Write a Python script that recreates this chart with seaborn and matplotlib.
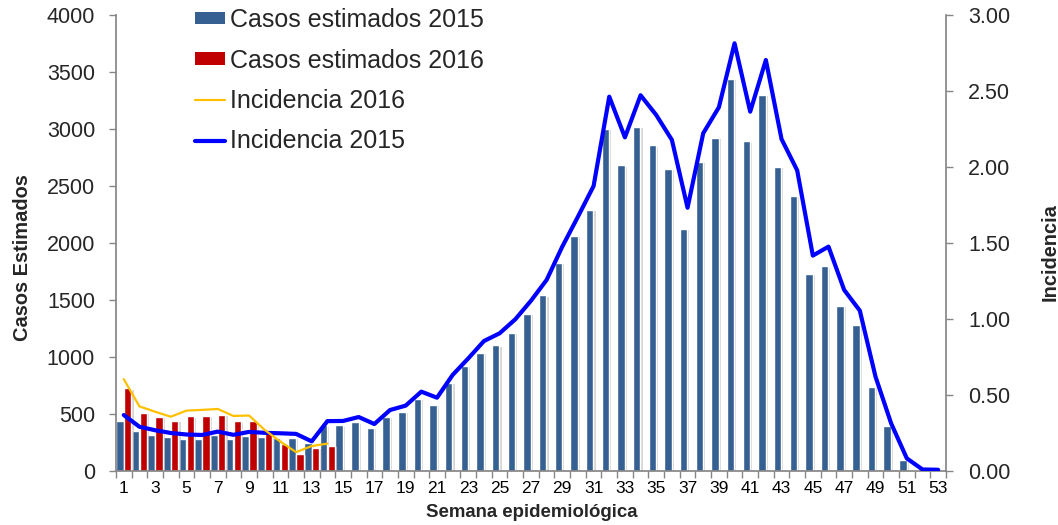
import numpy as np
import pandas as pd
import matplotlib
matplotlib.use("Agg")
import matplotlib.pyplot as plt
import seaborn as sns
from matplotlib import font_manager
from matplotlib.patches import Patch
from matplotlib.lines import Line2D
from matplotlib.ticker import FixedLocator, FormatStrFormatter
import matplotlib.patheffects as pe

# ---------------- data ----------------
weeks = list(range(1, 54))
casos_2015 = [441, 351, 319, 298, 284, 284, 313, 284, 310, 301,
              292, 290, 243, 400, 400, 427, 377, 477, 521, 632,
              579, 775, 921, 1038, 1102, 1213, 1380, 1541, 1825, 2061,
              2289, 3000, 2681, 3017, 2856, 2652, 2122, 2710, 2921, 3439,
              2892, 3298, 2667, 2412, 1728, 1795, 1450, 1283, 740, 398,
              93, 0, 0]
casos_2016 = [725, 509, 474, 439, 480, 485, 491, 436, 436, 330,
              234, 146, 205, 219]
inc_2015 = [0.368, 0.291, 0.268, 0.250, 0.240, 0.237, 0.259, 0.238, 0.257, 0.251,
            0.248, 0.244, 0.195, 0.328, 0.329, 0.355, 0.309, 0.401, 0.430, 0.522,
            0.482, 0.632, 0.741, 0.855, 0.906, 0.998, 1.120, 1.257, 1.476, 1.673,
            1.875, 2.463, 2.195, 2.472, 2.342, 2.178, 1.732, 2.222, 2.393, 2.814,
            2.364, 2.704, 2.184, 1.978, 1.417, 1.476, 1.191, 1.055, 0.621, 0.313,
            0.083, 0.010, 0.008]
inc_2016 = [0.604, 0.425, 0.390, 0.357, 0.397, 0.402, 0.408, 0.362, 0.365, 0.270,
            0.193, 0.124, 0.164, 0.180]
series_labels = ["Casos estimados 2015", "Casos estimados 2016",
                 "Incidencia 2016", "Incidencia 2015"]
xtick_weeks = list(range(1, 54, 2))
left_ticks = list(range(0, 4001, 500))
right_ticks = [0.0, 0.5, 1.0, 1.5, 2.0, 2.5, 3.0]

# ---------------- style ----------------
sns.set_theme(style="white")
names = {f.name for f in font_manager.fontManager.ttflist}
base = "Liberation Sans" if "Liberation Sans" in names else "DejaVu Sans"
narrow = "Liberation Sans Narrow" if "Liberation Sans Narrow" in names else None
plt.rcParams['font.family'] = [base, 'DejaVu Sans']
lab_family = [narrow, base] if narrow else [base]
lab_size = 17.5 if narrow else 14.4
xt_family = [narrow, base] if narrow else [base]
xt_size = 13 if narrow else 12.5

C_BLUE = "#376092"
C_RED = "#C00000"
C_ORANGE = "#FFC000"
C_LINE = "#0000FF"
C_AXIS = "#868686"

df = pd.DataFrame({
    "week": weeks + weeks[:len(casos_2016)],
    "serie": ["2015"] * len(casos_2015) + ["2016"] * len(casos_2016),
    "casos": casos_2015 + casos_2016,
})

fig = plt.figure(figsize=(10.58, 5.25), dpi=100)
ax = fig.add_axes([0.1096, 0.1029, 0.8941 - 0.1096, 0.9714 - 0.1029])

sns.barplot(data=df, x="week", y="casos", hue="serie", order=weeks,
            hue_order=["2015", "2016"], palette=[C_BLUE, C_RED],
            width=1.0, gap=0.04, saturation=1, errorbar=None,
            legend=False, ax=ax)
for p in ax.patches:
    p.set_path_effects([pe.SimplePatchShadow(offset=(1.5, -1), shadow_rgbFace="#BBBBBB", alpha=0.6),
                        pe.Normal()])

ax2 = ax.twinx()
pos = np.arange(len(weeks))
sns.lineplot(x=pos, y=inc_2015, color=C_LINE, linewidth=3, ax=ax2)
sns.lineplot(x=pos[:len(inc_2016)], y=inc_2016, color=C_ORANGE, linewidth=1.6, ax=ax2)

# axes limits & ticks
ax.set_xlim(-0.5, len(weeks) - 0.5)
ax.set_ylim(0, 4000)
ax2.set_ylim(0, 3)
ax.set_yticks(left_ticks)
ax.set_yticklabels([str(v) for v in left_ticks])
ax2.set_yticks(right_ticks)
ax2.yaxis.set_major_formatter(FormatStrFormatter("%.2f"))

ax.set_xticks([weeks.index(w) for w in xtick_weeks])
ax.set_xticklabels([str(w) for w in xtick_weeks])
ax.xaxis.set_minor_locator(FixedLocator(np.arange(-0.5, len(weeks), 1.0)))
ax.tick_params(axis="x", which="major", length=0, pad=7, labelsize=xt_size, colors="black")
ax.tick_params(axis="x", which="minor", length=5, color=C_AXIS, width=1, bottom=True)
for t in ax.get_xticklabels():
    t.set_family(xt_family)
ax.tick_params(axis="y", left=True, length=5, color=C_AXIS, width=1, pad=10, labelsize=15.5)
ax2.tick_params(axis="y", right=True, length=5, color=C_AXIS, width=1, pad=11, labelsize=15.5)

for s in ["top", "right"]:
    ax.spines[s].set_visible(False)
for s in ["top", "left", "bottom"]:
    ax2.spines[s].set_visible(False)
for s in ["left", "bottom"]:
    ax.spines[s].set_color(C_AXIS)
ax2.spines["right"].set_color(C_AXIS)

# axis labels
ax.set_xlabel("Semana epidemiológica", fontweight="bold", fontsize=lab_size - 1, family=lab_family)
ax.xaxis.set_label_coords(0.501, -0.09)
ax.xaxis.label.set_va("center")
ax.set_ylabel("Casos Estimados", fontweight="bold", fontsize=lab_size, family=lab_family)
ax.yaxis.label.set_va("center")
ax.yaxis.set_label_coords(-0.113, 0.467)
ax2.set_ylabel("Incidencia", fontweight="bold", fontsize=lab_size, family=lab_family)
ax2.yaxis.label.set_va("center")
ax2.yaxis.set_label_coords(1.125, 0.48)

# legend
handles = [Patch(facecolor=C_BLUE, edgecolor="none"),
           Patch(facecolor=C_RED, edgecolor="none"),
           Line2D([], [], color=C_ORANGE, linewidth=1.6),
           Line2D([], [], color=C_LINE, linewidth=3)]
fig.legend(handles, series_labels, loc="upper left",
           bbox_to_anchor=(195 / 1058, 1 - 8 / 525), frameon=False,
           fontsize=18, handlelength=1.2, handleheight=0.4,
           handletextpad=0.2, labelspacing=0.66, borderpad=0, borderaxespad=0)

fig.savefig("out.png", dpi=100)
